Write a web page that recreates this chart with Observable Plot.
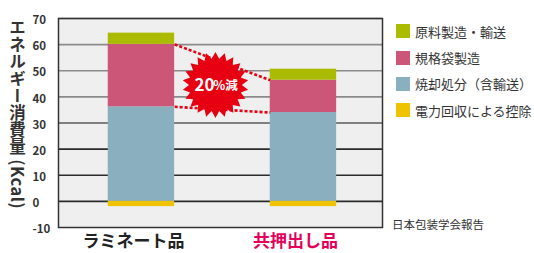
<!DOCTYPE html>
<html>
<head>
<meta charset="utf-8">
<script src="https://cdn.jsdelivr.net/npm/d3@7"></script>
<script src="https://cdn.jsdelivr.net/npm/@observablehq/plot@0.6"></script>
<style>
  body { margin: 0; background: #fff; }
  #wrap { position: relative; width: 534px; height: 253px; font-family: "Noto Sans CJK JP", "Noto Sans", sans-serif; overflow: hidden; }
  #ytitle { position: absolute; left: 9px; top: 19px; writing-mode: vertical-rl; font-size: 16.5px; font-weight: bold; color: #333; line-height: 1; letter-spacing: 0.5px; }
  #legend { position: absolute; left: 396px; top: 18px; font-size: 13px; color: #333; }
  .item { display: flex; align-items: center; height: 26.4px; }
  .sw { width: 14px; height: 14px; margin-right: 5px; flex: none; }
  #source { position: absolute; left: 392px; top: 216px; font-size: 11.5px; color: #333; }
</style>
</head>
<body>
<div id="wrap">
  <div id="chart"></div>
  <div id="ytitle">エネルギー消費量 (Kcal)</div>
  <div id="legend"></div>
  <div id="source">日本包装学会報告</div>
</div>
<script>
// ---- data ----
const categories = ["ラミネート品", "共押出し品"];
const seriesNames = ["原料製造・輸送", "規格袋製造", "焼却処分（含輸送）", "電力回収による控除"];
const material = [4.3, 4.2];      // 原料製造・輸送
const bagMaking = [23.9, 12.4];   // 規格袋製造
const incineration = [36.2, 34.0];// 焼却処分（含輸送）
const deduction = [-2.0, -2.0];   // 電力回収による控除
const yTicks = [-10, 0, 10, 20, 30, 40, 50, 60, 70];
const gridValues = [0, 10, 20, 30, 40, 50, 60, 70];
const annotation = "20%減";

// ---- styles ----
const seriesColors = ["#aabb00", "#cb5678", "#8ab0c0", "#efc300"];
const labelColors = ["#222222", "#e4005a"];
const halfWidth = 0.205;

// build stacked segments
const segs = [];
categories.forEach((c, i) => {
  const b0 = 0, b1 = incineration[i], b2 = b1 + bagMaking[i], b3 = b2 + material[i];
  segs.push({i, s: seriesNames[2], y1: b0, y2: b1});
  segs.push({i, s: seriesNames[1], y1: b1, y2: b2});
  segs.push({i, s: seriesNames[0], y1: b2, y2: b3});
  segs.push({i, s: seriesNames[3], y1: 0, y2: deduction[i]});
});
const colorOf = Object.fromEntries(seriesNames.map((s, k) => [s, seriesColors[k]]));

const links = [
  {x1: 0.5 + halfWidth, x2: 1.5 - halfWidth, y1: incineration[0] + bagMaking[0], y2: incineration[1] + bagMaking[1]},
  {x1: 0.5 + halfWidth, x2: 1.5 - halfWidth, y1: incineration[0], y2: incineration[1]}
];
const starY = d3.mean(links.flatMap(l => [l.y1, l.y2]));

const starSymbol = {
  draw(ctx, size) {
    const R = Math.sqrt(size / Math.PI), r = R * 0.8, n = 22;
    for (let k = 0; k < 2 * n; k++) {
      const a = k * Math.PI / n - Math.PI / 2;
      const rad = k % 2 ? r : R;
      const px = rad * Math.cos(a), py = rad * Math.sin(a);
      if (k === 0) ctx.moveTo(px, py); else ctx.lineTo(px, py);
    }
    ctx.closePath();
  }
};

const gridColor = d => d >= 40 ? "#8a8a8a" : d >= 30 ? "#5a5a5a" : "#2b2b2b";

const plot = Plot.plot({
  width: 534,
  height: 253,
  marginLeft: 58,
  marginRight: 152,
  marginTop: 18,
  marginBottom: 26,
  style: {fontFamily: "'Noto Sans CJK JP', sans-serif", color: "#333", background: "transparent"},
  x: {domain: [-0.012, 1.988], axis: null},
  y: {domain: [-10, 70], axis: null},
  marks: [
    Plot.frame({fill: "#efefef", stroke: null}),
    Plot.ruleY(gridValues, {stroke: gridColor, strokeWidth: 1.6}),
    Plot.rect(segs, {
      x1: d => d.i + 0.5 - halfWidth,
      x2: d => d.i + 0.5 + halfWidth,
      y1: "y1", y2: "y2",
      fill: d => colorOf[d.s]
    }),
    Plot.link(links, {x1: "x1", x2: "x2", y1: "y1", y2: "y2", stroke: "#e60012", strokeWidth: 2.6, strokeDasharray: "3,2"}),
    Plot.dot([{x: 1, y: starY}], {x: "x", y: "y", r: 33, dx: -7, dy: -1, symbol: starSymbol, fill: "#e60012", stroke: null}),
    Plot.text([{x: 1, y: starY}], {x: "x", y: "y", text: () => "20", dx: -18, dy: 0, fill: "white", fontSize: 17, fontWeight: "bold"}),
    Plot.text([{x: 1, y: starY}], {x: "x", y: "y", text: () => annotation.slice(2), dx: 3, dy: 0, fill: "white", fontSize: 12.5, fontWeight: "bold"}),
    Plot.frame({stroke: "#333", strokeWidth: 1.5}),
    Plot.axisY({ticks: yTicks, tickSize: 0, textAnchor: "start", dx: -17, dy: 2, fontSize: 11.5, fontWeight: "bold", tickFormat: d => String(d)}),
    Plot.text(categories, {
      x: (d, i) => i + 0.5,
      frameAnchor: "bottom",
      dy: 19,
      dx: -8,
      text: d => d,
      fill: (d, i) => labelColors[i],
      fontSize: 17,
      fontWeight: "bold"
    })
  ]
});
document.getElementById("chart").appendChild(plot);

const legend = d3.select("#legend");
seriesNames.forEach((s, k) => {
  const it = legend.append("div").attr("class", "item");
  it.append("div").attr("class", "sw").style("background", seriesColors[k]);
  it.append("span").text(s);
});
</script>
</body>
</html>
